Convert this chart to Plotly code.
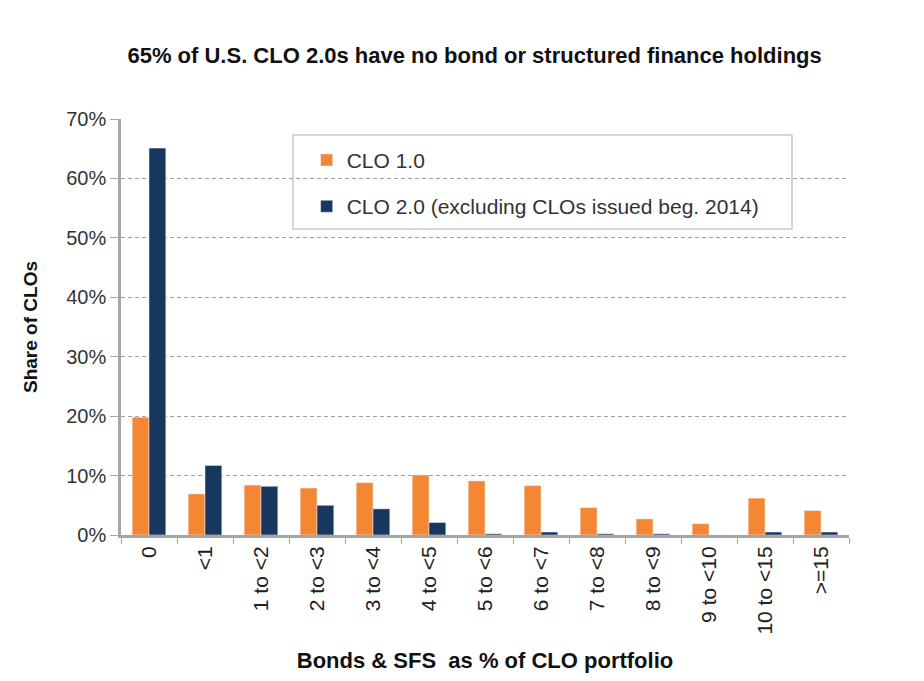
import plotly.graph_objects as go

# Share of CLOs by bond & SFS bucket
categories = ["0", "<1", "1 to <2", "2 to <3", "3 to <4", "4 to <5", "5 to <6",
              "6 to <7", "7 to <8", "8 to <9", "9 to <10", "10 to <15", ">=15"]
clo_1 = [0.198, 0.069, 0.084, 0.079, 0.088, 0.101, 0.091,
         0.083, 0.046, 0.027, 0.019, 0.062, 0.041]
clo_2 = [0.651, 0.117, 0.082, 0.050, 0.044, 0.021, 0.002,
         0.005, 0.002, 0.002, 0.0, 0.005, 0.005]
y_ticks = [0, 0.1, 0.2, 0.3, 0.4, 0.5, 0.6, 0.7]

font = "Liberation Sans, Arial, sans-serif"
grey = "#a6a6a6"

fig = go.Figure()
fig.add_trace(go.Bar(x=categories, y=clo_1, name="CLO 1.0",
                     marker_color="#f58634", legendgroup="a"))
fig.add_trace(go.Bar(x=categories, y=clo_2,
                     name="CLO 2.0 (excluding CLOs issued beg. 2014)",
                     marker_color="#17375e", legendgroup="b"))

# the page body adds an 8px offset, so margins are shifted to compensate
fig.update_layout(
    width=924, height=681,
    margin=dict(l=113, r=83, t=111, b=154),
    paper_bgcolor="white", plot_bgcolor="white",
    font=dict(family=font, size=20, color="#222"),
    title=dict(text="<b>65% of U.S. CLO 2.0s have no bond or structured finance holdings</b>",
               x=0.505, xanchor="center", y=0.93, yanchor="middle",
               font=dict(size=22, color="#111")),
    barmode="group", bargap=0.4, bargroupgap=0,
    showlegend=True,
    legend=dict(x=0.255, y=0.95, xanchor="left", yanchor="top",
                bgcolor="rgba(0,0,0,0)", borderwidth=0,
                traceorder="grouped", tracegroupgap=16,
                font=dict(size=21, color="#333")),
)

# legend frame
fig.add_shape(type="rect", xref="paper", yref="paper",
              x0=(293 - 121) / 728, x1=(792 - 121) / 728,
              y0=(535 - 229) / 416, y1=(535 - 135) / 416,
              line=dict(color="#c8c8c8", width=1.5), fillcolor="white", layer="below")

fig.update_xaxes(
    type="category", tickangle=-90, tickson="boundaries",
    ticks="outside", ticklen=6, tickcolor=grey,
    showline=True, linecolor=grey, linewidth=3,
    tickfont=dict(size=21, color="#222"),
    title=dict(text="<b>Bonds & SFS  as % of CLO portfolio</b>",
               font=dict(size=22, color="#111"), standoff=20),
)
fig.update_yaxes(
    range=[0, 0.7], tickvals=y_ticks, tickformat=".0%",
    ticks="outside", ticklen=8, tickcolor=grey,
    showline=True, linecolor=grey, linewidth=2.5,
    showgrid=True, gridcolor="#a0a0a0", griddash="4px,3px", gridwidth=1,
    zeroline=False,
    tickfont=dict(size=20, color="#333"),
    title=dict(text="<b>Share of CLOs</b>", font=dict(size=19, color="#111"),
               standoff=24),
)

fig.write_html("out.html")
